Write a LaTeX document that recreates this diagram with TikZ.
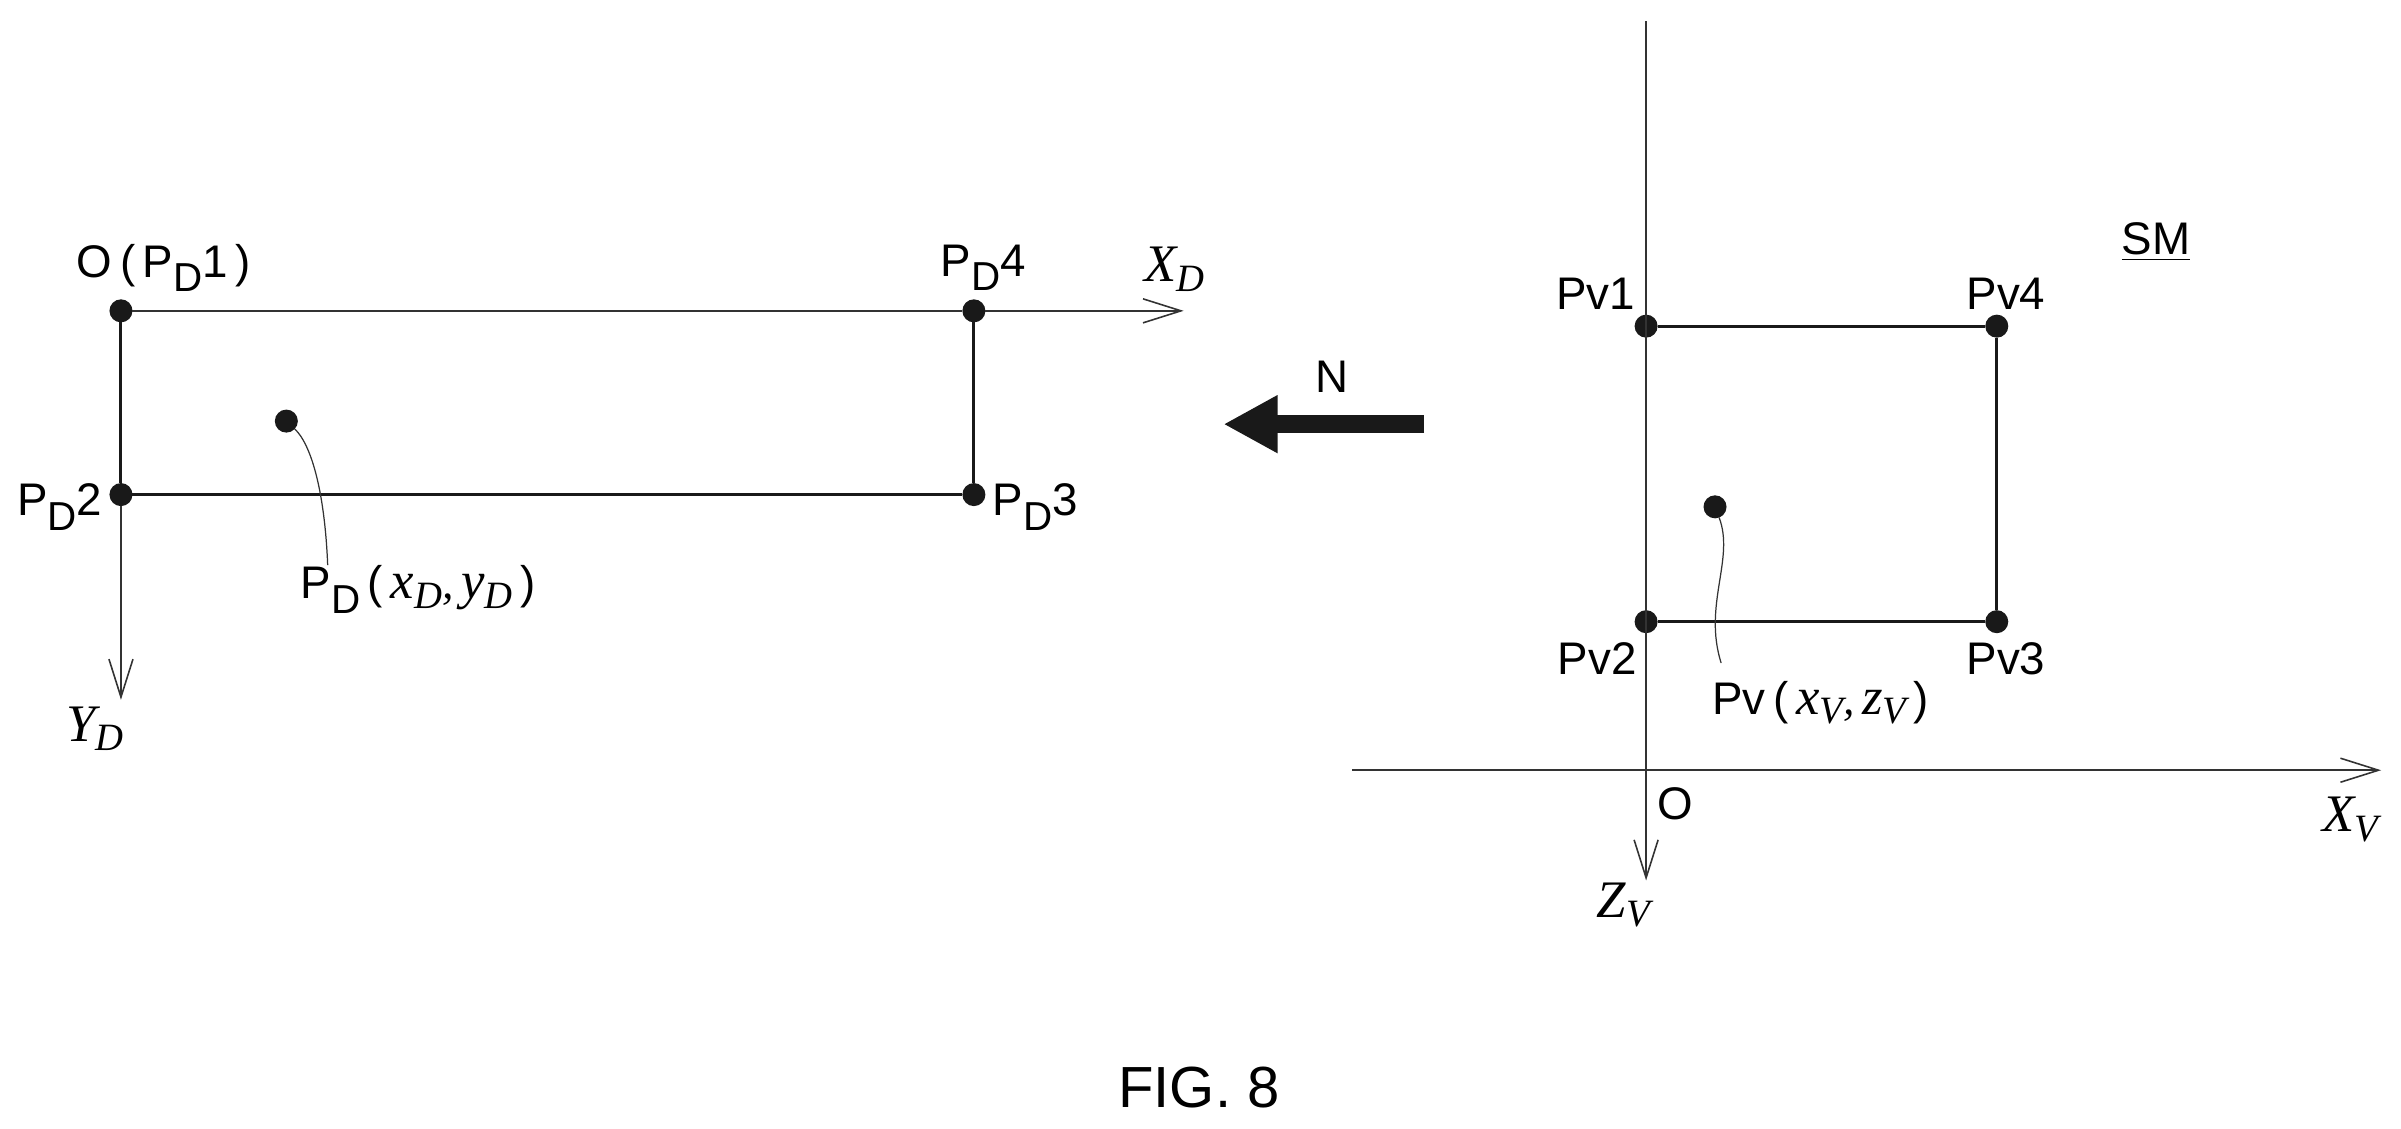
\documentclass[tikz,border=0pt]{standalone}
\usepackage{fontspec}
\setmainfont{Liberation Sans}
\newfontfamily\axisfont{Liberation Serif}[ItalicFont=Liberation Serif Italic]
\usetikzlibrary{arrows.meta}
\newcommand{\lowsub}[1]{\raisebox{-0.6ex}{\fontsize{11.5}{12}\selectfont #1}}
\newcommand{\axisvar}[2]{{\axisfont\itshape\fontsize{15}{17}\selectfont #1\raisebox{-0.4ex}{\fontsize{11}{12}\selectfont #2}}}
\tikzset{
  dot/.style={circle, fill=black!90, inner sep=0pt, minimum size=2.3mm, outer sep=0pt},
  label text/.style={inner sep=0pt, font=\fontsize{13}{15}\selectfont},
  side/.style={line width=0.85pt, black!90},
  thin axis/.style={line width=0.45pt, black!80},
  axis/.style={thin axis, -{Straight Barb[length=3.8mm, width=2.4mm, line width=0.45pt]}},
  leader/.style={line width=0.35pt, black!80}
}
\begin{document}
\begin{tikzpicture}[x=0.015312cm, y=-0.015312cm]
  \useasboundingbox (0,0) rectangle (1568,737);

  % Display plane
  \foreach \name/\x/\y in {PD1/79/203, PD2/79/323, PD3/636/323, PD4/636/203, PDp/187/275} {
    \node[dot] (\name) at (\x,\y) {};
  }
  \coordinate (XDend) at (773,203);
  \coordinate (YDend) at (79,457);
  \draw[side] (PD1) -- (PD2);
  \draw[side] (PD2) -- (PD3);
  \draw[side] (PD3) -- (PD4);
  \draw[thin axis] (PD1) -- (PD4);
  \draw[axis] (PD4) -- (XDend);
  \draw[axis, line width=0.7pt] (PD2) -- (YDend);

  \node[label text] (lPD1) at (107,175) {O\,(\,P\lowsub{D}1\,)};
  \node[label text] (lPD2) at (39,331) {P\lowsub{D}2};
  \node[label text] (lPD3) at (676,331) {P\lowsub{D}3};
  \node[label text] (lPD4) at (642,175) {P\lowsub{D}4};
  \node[label text] (lPDp) at (273,385) {P\lowsub{D}\,(\,\axisvar{x}{D}{\axisfont\itshape,}\,\axisvar{y}{D}\,)};
  \node[inner sep=0pt] (lXD) at (767,176) {\axisvar{X}{D}};
  \node[inner sep=0pt] (lYD) at (62,476) {\axisvar{Y}{D}};

  \coordinate (PDend) at (214,369);
  \draw[leader] (PDp) .. controls (203,290) and (212,320) .. (PDend);

  % Motion arrow
  \coordinate (Ntail) at (930,277);
  \coordinate (Ntip) at (799,277);
  \draw[black!90, line width=1.8mm, -{Triangle[length=5.4mm, width=5.4mm]}] (Ntail) -- (Ntip);
  \node[label text] (lN) at (870,246) {N};

  % Vehicle plane
  \foreach \name/\x/\y in {Pv1/1075/213, Pv2/1075/406, Pv3/1304/406, Pv4/1304/213, Pvp/1120/331} {
    \node[dot] (\name) at (\x,\y) {};
  }
  \draw[side] (Pv1) -- (Pv4);
  \draw[side] (Pv4) -- (Pv3);
  \draw[side] (Pv3) -- (Pv2);

  \coordinate (Ztop) at (1075,14);
  \coordinate (Zend) at (1075,575);
  \coordinate (Xstart) at (883,503);
  \coordinate (Xend) at (1555,503);
  \draw[axis] (Ztop) -- (Zend);
  \draw[axis] (Xstart) -- (Xend);

  \node[label text] (lPv1) at (1042,192) {Pv1};
  \node[label text] (lPv2) at (1043,430) {Pv2};
  \node[label text] (lPv3) at (1310,430) {Pv3};
  \node[label text] (lPv4) at (1310,192) {Pv4};
  \node[label text] (lPvp) at (1189,459) {Pv\,(\,\axisvar{x}{V}{\axisfont\itshape,}\,\axisvar{z}{V}\,)};
  \node[label text] (lO) at (1094,525) {O};
  \node[inner sep=0pt] (lXV) at (1535,535) {\axisvar{X}{V}};
  \node[inner sep=0pt] (lZV) at (1060,591) {\axisvar{Z}{V}};
  \node[label text] (lSM) at (1408,158) {\underline{SM}};

  \coordinate (Pvend) at (1124,433);
  \draw[leader] (Pvp) .. controls (1133,365) and (1112,395) .. (Pvend);

  \node[inner sep=0pt, font=\fontsize{16.5}{19}\selectfont] (caption) at (783,710) {FIG. 8};
\end{tikzpicture}
\end{document}
